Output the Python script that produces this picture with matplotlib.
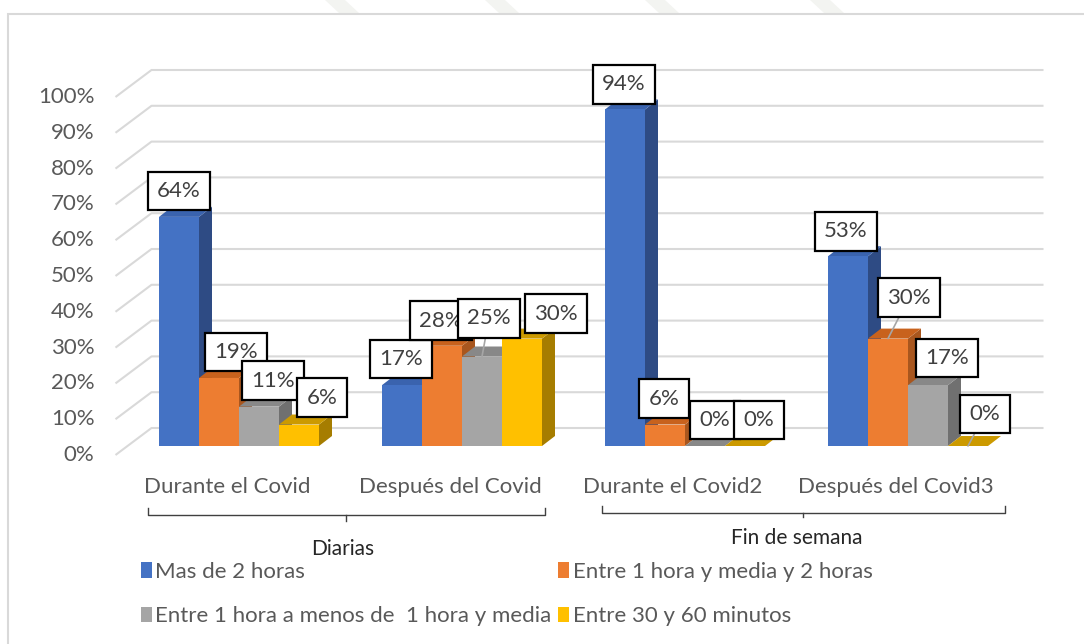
import matplotlib
matplotlib.use("Agg")
import matplotlib.pyplot as plt
import matplotlib.transforms as mtrans
from matplotlib.patches import Polygon, Rectangle, Patch
from matplotlib.lines import Line2D

# ---------------- data ----------------
categories = ["Durante el Covid", "Después del Covid", "Durante el Covid2", "Después del Covid3"]
group_names = ["Diarias", "Fin de semana"]
series_names = ["Mas de 2 horas",
                "Entre 1 hora y media y 2 horas",
                "Entre 1 hora a menos de  1 hora y media",
                "Entre 30 y 60 minutos"]
mas_de_2_horas = [64, 17, 94, 53]
entre_1h30_y_2h = [19, 28, 6, 30]
entre_1h_y_1h30 = [11, 25, 0, 17]
entre_30_y_60_min = [6, 30, 0, 0]
series_values = [mas_de_2_horas, entre_1h30_y_2h, entre_1h_y_1h30, entre_30_y_60_min]
y_ticks = [0, 10, 20, 30, 40, 50, 60, 70, 80, 90, 100]
y_tick_labels = [f"{t}%" for t in y_ticks]

# ---------------- style ----------------
colors = ["#4472C4", "#ED7D31", "#A5A5A5", "#FFC000"]
side_colors = ["#2E4B84", "#A8561E", "#707070", "#A67D00"]
top_colors = ["#3A63AE", "#C8621D", "#888888", "#CC9A00"]
FONT = ["Lato", "DejaVu Sans"]
FS = 16
TXT = "#595959"
LBL = "#404040"

W, H, DPI = 1084, 644, 100
fig = plt.figure(figsize=(W / DPI, H / DPI), dpi=DPI)
plt.rcParams["font.family"] = FONT


def fx(px):
    return px / W


def fy(py):
    return 1 - py / H


# chart frame
fig.patches.append(Rectangle((fx(8), fy(700)), fx(1200), 686 / H, transform=fig.transFigure,
                             fc="white", ec="#d9d9d9", lw=1.5, zorder=-2))
# faint watermark fragments above the frame
for (a, b) in [(325, 345), (485, 505), (645, 665), (810, 830)]:
    fig.patches.append(Polygon([(fx(a), fy(0)), (fx(b), fy(0)), (fx(b + 14), fy(13)), (fx(a + 14), fy(13))],
                               closed=True, transform=fig.transFigure, fc="#f3f4f1", ec="none", zorder=-3))

# axes: bar front plane, category units in x, percent in y
X0_PX, CAT_PX, Y0_PX, PCT_PX = 239, 223, 446, 3.58
L_PX, R_PX, T_PX, B_PX = 100, 1060, 40, 470
ax = fig.add_axes([fx(L_PX), fy(B_PX), (R_PX - L_PX) / W, (B_PX - T_PX) / H])
ax.set_zorder(2)
ax.set_xlim((L_PX - X0_PX) / CAT_PX, (R_PX - X0_PX) / CAT_PX)
ax.set_ylim((Y0_PX - B_PX) / PCT_PX, (Y0_PX - T_PX) / PCT_PX)
ax.axis("off")
ax.patch.set_alpha(0)

sx = CAT_PX   # px per x unit
sy = PCT_PX   # px per y unit


def dxu(px):
    return px / sx


def dyu(px):
    return px / sy


# 3D geometry (pixel offsets, y up)
FRONT = (-12, -9)
BACK = (24, 18)
BAR_D = (13, 10)
bw = dxu(40)
x_lo, x_hi = -0.5, 3.5

# gridlines on back wall with left side-wall diagonals
for v in y_ticks:
    xs = [x_lo + dxu(FRONT[0]), x_lo + dxu(BACK[0]), x_hi + dxu(BACK[0])]
    ys = [v + dyu(FRONT[1]), v + dyu(BACK[1]), v + dyu(BACK[1])]
    ax.plot(xs, ys, color="#d9d9d9", lw=1.5, zorder=0, solid_capstyle="butt")

# y tick labels (front plane)
tick_tr = ax.transData + mtrans.ScaledTranslation((FRONT[0] - 21) / DPI, FRONT[1] / DPI, fig.dpi_scale_trans)
for v, lab in zip(y_ticks, y_tick_labels):
    ax.text(x_lo, v, lab, transform=tick_tr, ha="right", va="center", fontsize=FS, color=TXT)

# bars
ddx, ddy = dxu(BAR_D[0]), dyu(BAR_D[1])
for j, vals in enumerate(series_values):
    xl = [i + (j - 2) * bw for i in range(len(categories))]
    ax.bar(xl, vals, width=bw, align="edge", color=colors[j], edgecolor="none", zorder=2)
    for x0, v in zip(xl, vals):
        top = [(x0, v), (x0 + bw, v), (x0 + bw + ddx, v + ddy), (x0 + ddx, v + ddy)]
        side = [(x0 + bw, 0), (x0 + bw + ddx, ddy), (x0 + bw + ddx, v + ddy), (x0 + bw, v)]
        ax.add_patch(Polygon(side, closed=True, fc=side_colors[j], ec="none", zorder=1))
        ax.add_patch(Polygon(top, closed=True, fc=top_colors[j], ec="none", zorder=1.5))

# data labels (offsets in px from the front top centre; +x right, +y down)
label_offsets = [
    [(0, -26), (-1, -26), (-1, -25), (-2, -25)],
    [(17, -26), (-1, -25), (-1, -26), (21, -41)],
    [(14, -26), (7, -38), (10, -26), (19, -27)],
    [(23, -27), (34, -25), (14, -26), (17, -32)],
]
leaders = {(2, 1), (1, 3), (3, 3)}
for j, vals in enumerate(series_values):
    for i, v in enumerate(vals):
        xc = i + (j - 2) * bw + bw / 2
        ox, oy = label_offsets[j][i]
        kw = {}
        if (j, i) in leaders:
            kw["arrowprops"] = dict(arrowstyle="-", color="#a6a6a6", lw=1.2, shrinkA=0, shrinkB=0)
        ax.annotate(f"{v}%", xy=(xc, v), xytext=(ox * 0.72, -oy * 0.72), textcoords="offset points",
                    ha="center", va="center", fontsize=FS, color=LBL, zorder=6,
                    bbox=dict(boxstyle="square,pad=0.42", fc="white", ec="black", lw=1.6), **kw)

# category labels (front plane)
cat_tr = mtrans.blended_transform_factory(ax.transData, fig.transFigure) + \
    mtrans.ScaledTranslation(FRONT[0] / DPI, 0, fig.dpi_scale_trans)
for i, c in enumerate(categories):
    ax.text(i, fy(487), c, transform=cat_tr, ha="center", va="center", fontsize=FS, color=TXT)

# group brackets
BR = "#404040"
def line(pts):
    fig.add_artist(Line2D([fx(p[0]) for p in pts], [fy(p[1]) for p in pts],
                          transform=fig.transFigure, color=BR, lw=1.0))

line([(148, 508), (148, 515), (545, 515), (545, 508)])
line([(346, 515), (346, 521)])
line([(602, 506), (602, 513), (1005, 513), (1005, 506)])
line([(803, 513), (803, 517)])
fig.text(fx(343), fy(549), group_names[0], ha="center", va="center", fontsize=FS - 1, color="#262626")
fig.text(fx(797), fy(538), group_names[1], ha="center", va="center", fontsize=FS - 1, color="#262626")

# legend
handles = [Patch(fc=colors[k], ec="none") for k in range(4)]
order = [0, 2, 1, 3]
leg = fig.legend([handles[k] for k in order], [series_names[k] for k in order], ncol=2,
                 loc="upper left", bbox_to_anchor=(fx(132), fy(553)), frameon=False,
                 fontsize=FS, labelcolor=TXT, handlelength=0.5, handleheight=0.7,
                 handletextpad=0.15, columnspacing=0.3, labelspacing=1.1, borderaxespad=0)

fig.savefig("out.png", dpi=DPI)
